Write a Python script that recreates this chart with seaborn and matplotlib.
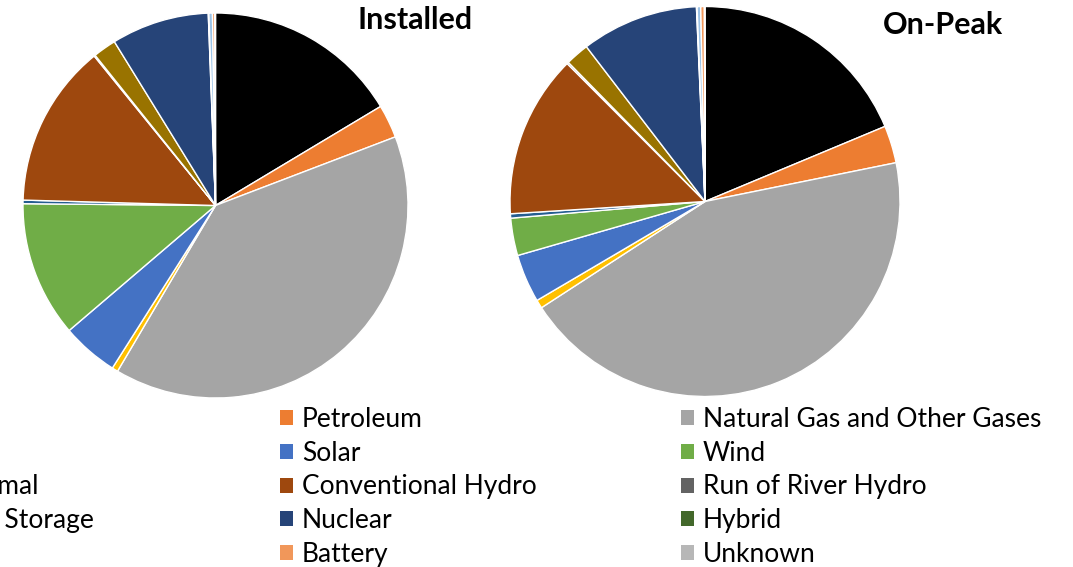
import matplotlib
matplotlib.use("Agg")
import matplotlib.pyplot as plt
from matplotlib.patches import Patch
import seaborn as sns

sources = ["Coal", "Petroleum", "Natural Gas and Other Gases",
           "Biomass", "Solar", "Wind",
           "Geothermal", "Conventional Hydro", "Run of River Hydro",
           "Pumped Storage", "Nuclear", "Hybrid",
           "Other", "Battery", "Unknown"]
installed = [16.4, 2.8, 39.3, 0.5, 4.75, 11.4, 0.3, 13.7, 0.1, 1.95, 8.2, 0.05, 0.3, 0.2, 0.05]
on_peak = [18.7, 3.1, 44.0, 0.7, 4.0, 3.1, 0.36, 13.5, 0.14, 1.95, 9.7, 0.05, 0.3, 0.3, 0.05]
colors = ["#000000", "#ED7D31", "#A5A5A5",
          "#FFC000", "#4472C4", "#70AD47",
          "#255E91", "#9E480E", "#636363",
          "#997300", "#264478", "#43682B",
          "#9DC3E6", "#F1975A", "#B7B7B7"]
titles = ["Installed", "On-Peak"]

sns.set_theme(style="white")
plt.rcParams["font.family"] = ["Lato", "DejaVu Sans"]
palette = sns.color_palette(colors)

W, H = 1073, 567
fig = plt.figure(figsize=(W / 100, H / 100), dpi=100)
fig.patch.set_facecolor("white")


def px_axes(cx, cy, r):
    return fig.add_axes([(cx - r) / W, (H - cy - r) / H, 2 * r / W, 2 * r / H])


pies = [(installed, (215.5, 205.5, 192.5)), (on_peak, (705, 201.5, 195))]
for vals, (cx, cy, r) in pies:
    ax = px_axes(cx, cy, r)
    ax.pie(vals, colors=palette, startangle=90, counterclock=False,
           wedgeprops=dict(edgecolor="white", linewidth=1.0))
    ax.set_xlim(-1, 1)
    ax.set_ylim(-1, 1)
    ax.set_aspect("equal")
    ax.axis("off")

fig.text(415 / W, 1 - 20 / H, titles[0], ha="center", va="center",
         fontsize=22, fontweight="bold", color="black")
fig.text(943 / W, 1 - 25 / H, titles[1], ha="center", va="center",
         fontsize=22, fontweight="bold", color="black")

handles = [Patch(facecolor=c, edgecolor="none") for c in palette]
col_x = [-120, 280, 681]
for ci in range(3):
    idx = [ci + 3 * rr for rr in range(5)]
    fig.legend([handles[i] for i in idx], [sources[i] for i in idx],
               loc="upper left", bbox_to_anchor=(col_x[ci] / W, 1 - 407 / H),
               frameon=False, fontsize=19, borderpad=0, borderaxespad=0,
               handlelength=0.5, handleheight=0.5, handletextpad=0.33,
               labelspacing=0.33, labelcolor="black")

fig.savefig("out.png", dpi=100, facecolor="white")
